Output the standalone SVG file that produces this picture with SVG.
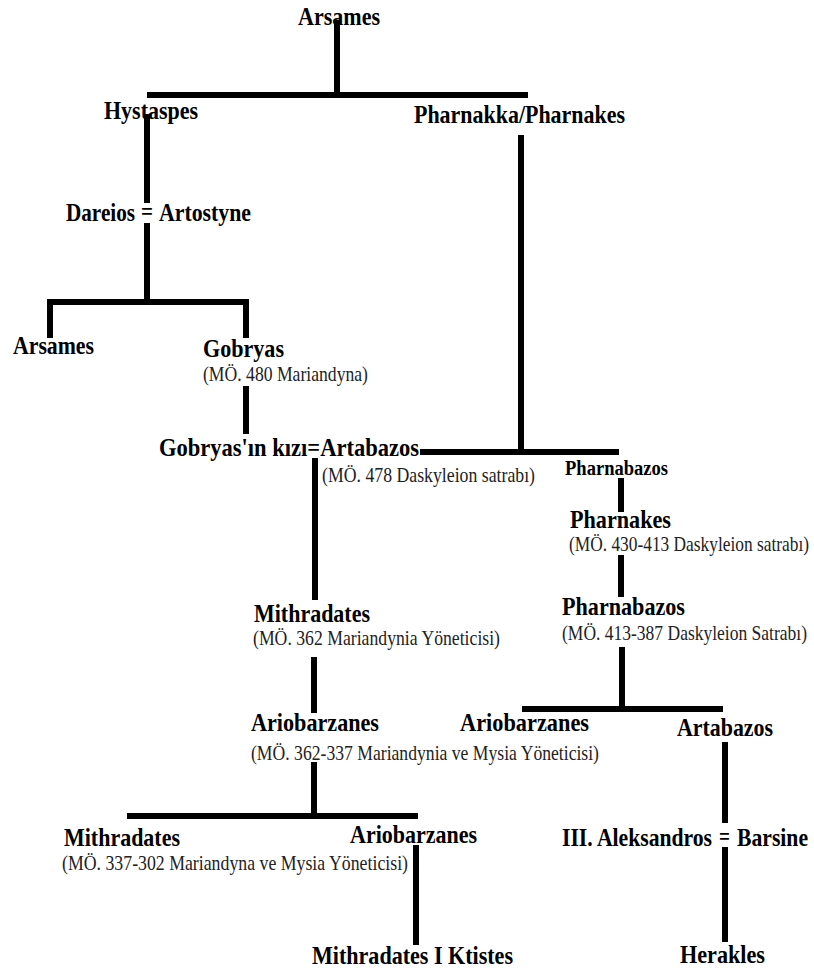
<svg xmlns="http://www.w3.org/2000/svg" width="814" height="974" viewBox="0 0 814 974">
<style>
.n{font-family:"Liberation Serif","Times New Roman",serif;font-weight:bold;font-size:22px;fill:#000}
.m{font-family:"Liberation Serif","Times New Roman",serif;font-weight:bold;font-size:18px;fill:#000}
.s{font-family:"Liberation Serif","Times New Roman",serif;font-size:17.5px;fill:#222}
.c line{stroke:#000;stroke-width:6;stroke-linecap:butt}
</style>
<rect width="814" height="974" fill="#fff"/>
<g id="connectors" class="c">
<line x1="337" y1="20" x2="337" y2="95"/>
<line x1="147" y1="95" x2="528" y2="95"/>
<line x1="147" y1="114" x2="147" y2="203"/>
<line x1="147" y1="223" x2="147" y2="302"/>
<line x1="47" y1="302" x2="249" y2="302"/>
<line x1="50" y1="299" x2="50" y2="338"/>
<line x1="246" y1="299" x2="246" y2="338"/>
<line x1="246" y1="386" x2="246" y2="434"/>
<line x1="521" y1="135" x2="521" y2="452"/>
<line x1="420" y1="452" x2="619" y2="452"/>
<line x1="315" y1="458" x2="315" y2="600"/>
<line x1="621" y1="478" x2="621" y2="512"/>
<line x1="621" y1="555" x2="621" y2="597"/>
<line x1="622" y1="647" x2="622" y2="710"/>
<line x1="522" y1="709" x2="723" y2="709"/>
<line x1="314" y1="657" x2="314" y2="713"/>
<line x1="725" y1="742" x2="725" y2="823"/>
<line x1="725" y1="847" x2="725" y2="942"/>
<line x1="314" y1="762" x2="314" y2="816"/>
<line x1="127" y1="816" x2="418" y2="816"/>
<line x1="416" y1="845" x2="416" y2="945"/>
</g>
<g id="arsames-top"><text class="n" transform="translate(298,25) scale(1,1.15)" textLength="82" lengthAdjust="spacingAndGlyphs">Arsames</text></g>
<g id="hystaspes"><text class="n" transform="translate(104,119) scale(1,1.15)" textLength="94" lengthAdjust="spacingAndGlyphs">Hystaspes</text></g>
<g id="pharnakka"><text class="n" transform="translate(414,123) scale(1,1.15)" textLength="211" lengthAdjust="spacingAndGlyphs">Pharnakka/Pharnakes</text></g>
<g id="dareios">
<text class="n" transform="translate(66,221) scale(1,1.15)" textLength="69" lengthAdjust="spacingAndGlyphs">Dareios</text>
<text class="n" transform="translate(141,220) scale(1,1.15)" textLength="12" lengthAdjust="spacingAndGlyphs">=</text>
<text class="n" transform="translate(159,221) scale(1,1.15)" textLength="92" lengthAdjust="spacingAndGlyphs">Artostyne</text>
</g>
<g id="arsames-left"><text class="n" transform="translate(13,354) scale(1,1.15)" textLength="81" lengthAdjust="spacingAndGlyphs">Arsames</text></g>
<g id="gobryas">
<text class="n" transform="translate(203,357) scale(1,1.15)" textLength="81" lengthAdjust="spacingAndGlyphs">Gobryas</text>
<text class="s" transform="translate(203,381) scale(1,1.2)" textLength="165" lengthAdjust="spacingAndGlyphs">(MÖ. 480 Mariandyna)</text>
</g>
<g id="artabazos-1">
<text class="n" transform="translate(159,456) scale(1,1.15)" textLength="260" lengthAdjust="spacingAndGlyphs">Gobryas'ın kızı=Artabazos</text>
<text class="s" transform="translate(322,482) scale(1,1.2)" textLength="213" lengthAdjust="spacingAndGlyphs">(MÖ. 478 Daskyleion satrabı)</text>
</g>
<g id="pharnabazos-1"><text class="m" transform="translate(565,475) scale(1,1.15)" textLength="103" lengthAdjust="spacingAndGlyphs">Pharnabazos</text></g>
<g id="pharnakes">
<text class="n" transform="translate(570,528) scale(1,1.15)" textLength="101" lengthAdjust="spacingAndGlyphs">Pharnakes</text>
<text class="s" transform="translate(569,551) scale(1,1.2)" textLength="240" lengthAdjust="spacingAndGlyphs">(MÖ. 430-413 Daskyleion satrabı)</text>
</g>
<g id="pharnabazos-2">
<text class="n" transform="translate(562,615) scale(1,1.15)" textLength="123" lengthAdjust="spacingAndGlyphs">Pharnabazos</text>
<text class="s" transform="translate(562,640) scale(1,1.2)" textLength="245" lengthAdjust="spacingAndGlyphs">(MÖ. 413-387 Daskyleion Satrabı)</text>
</g>
<g id="mithradates-1">
<text class="n" transform="translate(254,622) scale(1,1.15)" textLength="116" lengthAdjust="spacingAndGlyphs">Mithradates</text>
<text class="s" transform="translate(253,645) scale(1,1.2)" textLength="247" lengthAdjust="spacingAndGlyphs">(MÖ. 362 Mariandynia Yöneticisi)</text>
</g>
<g id="ariobarzanes-1">
<text class="n" transform="translate(251,731) scale(1,1.15)" textLength="128" lengthAdjust="spacingAndGlyphs">Ariobarzanes</text>
<text class="s" transform="translate(251,760) scale(1,1.2)" textLength="348" lengthAdjust="spacingAndGlyphs">(MÖ. 362-337 Mariandynia ve Mysia Yöneticisi)</text>
</g>
<g id="ariobarzanes-2"><text class="n" transform="translate(460,731) scale(1,1.15)" textLength="129" lengthAdjust="spacingAndGlyphs">Ariobarzanes</text></g>
<g id="artabazos-2"><text class="n" transform="translate(677,736) scale(1,1.15)" textLength="96" lengthAdjust="spacingAndGlyphs">Artabazos</text></g>
<g id="mithradates-2">
<text class="n" transform="translate(64,846) scale(1,1.15)" textLength="116" lengthAdjust="spacingAndGlyphs">Mithradates</text>
<text class="s" transform="translate(62,870) scale(1,1.2)" textLength="346" lengthAdjust="spacingAndGlyphs">(MÖ. 337-302 Mariandyna ve Mysia Yöneticisi)</text>
</g>
<g id="ariobarzanes-3"><text class="n" transform="translate(350,843) scale(1,1.15)" textLength="127" lengthAdjust="spacingAndGlyphs">Ariobarzanes</text></g>
<g id="mithradates-ktistes"><text class="n" transform="translate(312,964) scale(1,1.15)" textLength="201" lengthAdjust="spacingAndGlyphs">Mithradates I Ktistes</text></g>
<g id="aleksandros">
<text class="n" transform="translate(562,846) scale(1,1.15)" textLength="150" lengthAdjust="spacingAndGlyphs">III. Aleksandros</text>
<text class="n" transform="translate(719,845) scale(1,1.15)" textLength="11" lengthAdjust="spacingAndGlyphs">=</text>
<text class="n" transform="translate(737,846) scale(1,1.15)" textLength="71" lengthAdjust="spacingAndGlyphs">Barsine</text>
</g>
<g id="herakles"><text class="n" transform="translate(680,963) scale(1,1.15)" textLength="85" lengthAdjust="spacingAndGlyphs">Herakles</text></g>
</svg>
